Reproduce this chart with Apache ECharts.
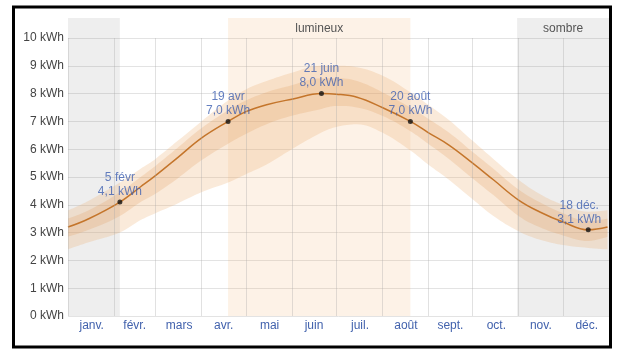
<!DOCTYPE html>
<html><head><meta charset="utf-8">
<script src="https://cdn.jsdelivr.net/npm/echarts@6/dist/echarts.min.js"></script>
<style>html,body{margin:0;padding:0;background:#fff}#c{width:619px;height:349px}</style>
</head><body><div id="c"></div>
<script>
// day of year (1 = 1 janv.)
const days    = [1, 15, 36, 50, 60, 75, 91, 109, 121, 135, 152, 172, 182, 196, 213, 232, 244, 258, 274, 288, 305, 319, 335, 352, 365];
const meanVal = [3.2, 3.5, 4.1, 4.65, 5.05, 5.7, 6.4, 7.0, 7.35, 7.6, 7.8, 8.0, 7.98, 7.87, 7.5, 7.0, 6.6, 6.15, 5.5, 4.9, 4.17, 3.75, 3.38, 3.1, 3.2];
const p90     = [3.8, 4.15, 4.8, 5.3, 5.65, 6.3, 7.0, 7.75, 8.15, 8.45, 8.75, 9.0, 9.0, 8.95, 8.65, 8.05, 7.6, 7.05, 6.3, 5.65, 4.9, 4.4, 4.0, 3.75, 3.8];
const p75     = [3.5, 3.8, 4.45, 5.0, 5.4, 6.05, 6.75, 7.4, 7.75, 8.05, 8.3, 8.55, 8.55, 8.45, 8.05, 7.5, 7.1, 6.6, 5.9, 5.3, 4.55, 4.1, 3.7, 3.42, 3.5];
const p25     = [2.85, 3.1, 3.6, 4.1, 4.4, 4.95, 5.6, 6.2, 6.55, 6.9, 7.2, 7.45, 7.55, 7.5, 7.2, 6.65, 6.2, 5.65, 4.95, 4.35, 3.6, 3.2, 2.9, 2.7, 2.85];
const p10     = [2.4, 2.65, 3.0, 3.45, 3.7, 4.05, 4.45, 4.8, 5.1, 5.45, 6.0, 6.6, 6.8, 6.9, 6.6, 5.95, 5.45, 4.9, 4.2, 3.6, 3.05, 2.75, 2.55, 2.45, 2.4];

const monthStarts = [1, 32, 60, 91, 121, 152, 182, 213, 244, 274, 305, 335, 366];
const monthNames  = ['janv.', 'févr.', 'mars', 'avr.', 'mai', 'juin', 'juil.', 'août', 'sept.', 'oct.', 'nov.', 'déc.'];
const yTicks = [0, 1, 2, 3, 4, 5, 6, 7, 8, 9, 10];

const bandNames = ['', 'lumineux', 'sombre'];
const bandFrom  = [1, 109, 304];
const bandTo    = [36, 232, 366];
const bandKind  = ['dark', 'bright', 'dark'];

const hlDays   = [36, 109, 172, 232, 352];
const hlValues = [4.1, 7.0, 8.0, 7.0, 3.1];
const hlDates  = ['5 févr', '19 avr', '21 juin', '20 août', '18 déc.'];

// x axis: one category per day boundary (index 0 = 1 janv., 365 = end of year)
const dayCats = Array.from({length: 366}, (_, i) => String(i));
const X = d => d - 1;
const pts = arr => days.map((d, i) => [X(d), arr[i]]);
const diffPts = (hi, lo) => days.map((d, i) => [X(d), +(hi[i] - lo[i]).toFixed(3)]);
const midIdx = monthStarts.slice(0, 12).map((s, i) => Math.round((X(s) + X(monthStarts[i + 1])) / 2));

const chart = echarts.init(document.getElementById('c'), null, {renderer: 'canvas'});
const font = 'Liberation Sans, Arial, sans-serif';

const bandSeries = (name, stack, base, top, color, z) => [
  {name: name + 'base', type: 'line', stack, data: pts(base),
   smooth: 0.4, showSymbol: false, lineStyle: {opacity: 0}, silent: true, z},
  {name: name + 'band', type: 'line', stack, data: diffPts(top, base),
   smooth: 0.4, showSymbol: false, lineStyle: {opacity: 0}, areaStyle: {color, opacity: 1}, silent: true, z}
];

chart.setOption({
  animation: false,
  backgroundColor: '#fff',
  grid: {left: 68, right: 10, top: 18, bottom: 33},
  xAxis: {
    type: 'category', data: dayCats, boundaryGap: false,
    axisLine: {show: false}, axisTick: {show: false}, splitLine: {show: false},
    axisLabel: {
      interval: (idx) => midIdx.includes(idx),
      color: '#4262ad', fontSize: 12, fontFamily: font, margin: 4,
      formatter: (val, idx) => { const i = midIdx.indexOf(Number(val)); return i >= 0 ? monthNames[i] : ''; }
    }
  },
  yAxis: {
    type: 'value', min: 0, max: 10.72,
    axisLine: {show: false},
    axisTick: {show: false, customValues: yTicks},
    axisLabel: {customValues: yTicks, formatter: v => v + ' kWh', color: '#444', fontSize: 12, fontFamily: font, margin: 4},
    splitLine: {lineStyle: {color: '#e3e3e3', width: 1}}
  },
  series: [
    {
      name: 'helper', type: 'line', data: pts(meanVal), showSymbol: false, lineStyle: {opacity: 0}, silent: true, z: 1,
      markArea: {
        silent: true,
        data: bandNames.map((n, i) => [
          {xAxis: X(bandFrom[i]),
           itemStyle: {color: bandKind[i] === 'bright' ? 'rgba(240,165,95,0.15)' : 'rgba(120,120,120,0.13)'},
           label: {show: n !== '', position: 'insideTop', distance: 5, color: '#555', fontSize: 12, fontFamily: font, formatter: n}},
          {xAxis: X(bandTo[i])}
        ])
      },
      markLine: {
        silent: true, symbol: 'none', label: {show: false},
        lineStyle: {color: 'rgba(170,170,170,0.35)', width: 1, type: 'solid'},
        data: monthStarts.map(s => [{coord: [X(s), 0]}, {coord: [X(s), 10]}])
      }
    },
    ...bandSeries('p10-90', 'outer', p10, p90, 'rgba(236,172,112,0.26)', 2),
    ...bandSeries('p25-75', 'inner', p25, p75, 'rgba(222,148,80,0.22)', 3),
    {
      name: 'mean', type: 'line', data: pts(meanVal), smooth: 0.4, showSymbol: false, z: 4,
      lineStyle: {color: '#c4752b', width: 1.5}
    },
    {
      name: 'points', type: 'scatter', z: 5, symbolSize: 5,
      itemStyle: {color: '#111'},
      data: hlDays.map((d, i) => ({
        value: [X(d), hlValues[i]],
        label: {
          show: true, position: 'top', distance: 1, color: '#3d5fb0', fontSize: 12, fontFamily: font, lineHeight: 14,
          offset: [d > 340 ? -9 : 0, 0],
          formatter: hlDates[i] + '\n' + hlValues[i].toFixed(1).replace('.', ',') + ' kWh'
        }
      }))
    }
  ],
  graphic: [{
    type: 'rect', silent: true, z: 100,
    shape: {x: 13.5, y: 7, width: 597, height: 340},
    style: {fill: 'none', stroke: '#000', lineWidth: 3}
  }]
});
</script></body></html>
